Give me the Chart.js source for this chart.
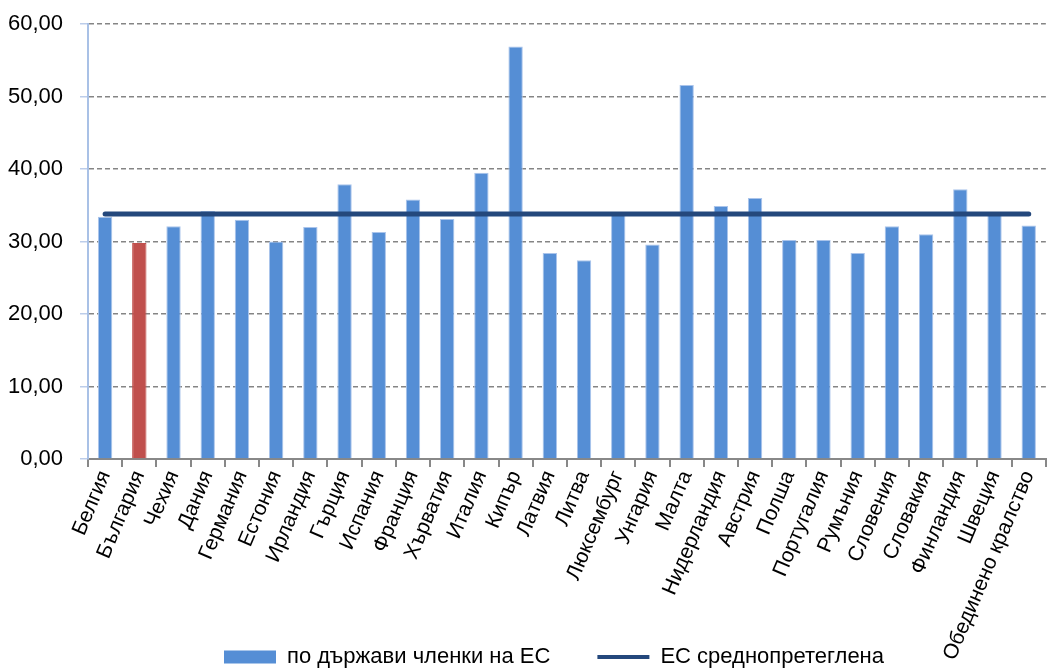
<!DOCTYPE html>
<html>
<head>
<meta charset="utf-8">
<script src="https://cdn.jsdelivr.net/npm/chart.js@4"></script>
<style>
    html, body { margin: 0; padding: 0; background: #fff; }
    #wrap { width: 1052px; height: 670px; }
</style>
</head>
<body>
<div id="wrap"><canvas id="main-barchart"></canvas></div>
<script>
const countries = ["Белгия", "България", "Чехия", "Дания", "Германия", "Естония", "Ирландия", "Гърция", "Испания", "Франция", "Хърватия", "Италия", "Кипър", "Латвия", "Литва", "Люксембург", "Унгария", "Малта", "Нидерландия", "Австрия", "Полша", "Португалия", "Румъния", "Словения", "Словакия", "Финландия", "Швеция", "Обединено кралство"];
const memberValues = [33.4, 29.8, 32.1, 34.2, 33.0, 30.0, 32.0, 37.9, 31.3, 35.8, 33.1, 39.5, 56.9, 28.4, 27.4, 33.7, 29.6, 51.6, 34.9, 36.0, 30.2, 30.2, 28.4, 32.1, 31.0, 37.2, 33.7, 32.2];
const euAverage = 33.8;
const yTicks = [0, 10, 20, 30, 40, 50, 60];

const fontFamily = "'Liberation Sans', Arial, sans-serif";
const blue = "rgb(85, 142, 213)";
const red = "rgb(192, 80, 77)";
const navy = "rgb(36, 72, 124)";

const barColors = countries.map(c => c === "България" ? red : blue);
const barBorders = countries.map(c => c === "България" ? red : "rgb(170, 196, 235)");

// x labels may run down into the legend strip, so don't clip them to the axis box;
// the legend is nudged to where it sits in the original
const layoutTweaks = {
    id: "layoutTweaks",
    afterLayout(chart) {
        chart.scales.x.bottom = chart.height;
        const lg = chart.legend;
        lg.top += 8; lg.bottom += 8;
        lg.left += 30; lg.right += 30;
    }
};

const data = {
    labels: countries,
    datasets: [
        {
            type: "line",
            label: "ЕС среднопретеглена",
            data: countries.map(() => euAverage),
            borderColor: navy,
            backgroundColor: navy,
            borderWidth: 5,
            pointRadius: 0,
            borderCapStyle: "round",
            order: 0
        },
        {
            type: "bar",
            label: "по държави членки на ЕС",
            data: memberValues,
            backgroundColor: barColors,
            borderColor: barBorders,
            borderWidth: { left: 1, right: 1, top: 1, bottom: 0 },
            barPercentage: 0.42,
            categoryPercentage: 1,
            order: 1
        }
    ]
};

new Chart(document.querySelector("#main-barchart"), {
    data: data,
    plugins: [layoutTweaks],
    options: {
        responsive: true,
        maintainAspectRatio: false,
        animation: false,
        layout: { autoPadding: false, padding: { left: 0, right: 4, top: 24, bottom: 0 } },
        scales: {
            x: {
                grid: {
                    offset: true,
                    drawOnChartArea: false,
                    color: "#888",
                    tickLength: 8,
                    lineWidth: 2
                },
                border: { color: "#888", width: 2 },
                ticks: {
                    color: "#000",
                    font: { family: fontFamily, size: 21 },
                    maxRotation: 67,
                    minRotation: 67,
                    autoSkip: false,
                    padding: 0
                },
                afterFit: scale => { scale.height = 132; scale.paddingTop = 0; }
            },
            y: {
                min: 0,
                max: 60,
                afterBuildTicks: scale => { scale.ticks = yTicks.map(v => ({ value: v })); },
                afterFit: scale => { scale.width = 88; scale.paddingTop = 0; },
                grid: {
                    color: "#858585",
                    lineWidth: 1.5,
                    tickColor: "#bccdea",
                    tickLength: 8,
                    tickBorderDash: []
                },
                border: { color: "#a9c1e6", width: 2, dash: [5, 3] },
                ticks: {
                    color: "#000",
                    font: { family: fontFamily, size: 22 },
                    padding: 17,
                    callback: v => v.toFixed(2).replace(".", ",")
                }
            }
        },
        plugins: {
            legend: {
                position: "bottom",
                reverse: true,
                labels: {
                    color: "#000",
                    font: { family: fontFamily, size: 22 },
                    usePointStyle: true,
                    pointStyleWidth: 52,
                    boxHeight: 13,
                    padding: 47,
                    generateLabels: chart => {
                        const items = Chart.defaults.plugins.legend.labels.generateLabels(chart);
                        items.forEach(i => {
                            if (i.datasetIndex === 1) {
                                i.pointStyle = "rect";
                                i.lineWidth = 0;
                                i.fillStyle = blue;
                            } else {
                                i.pointStyle = "line";
                                i.lineWidth = 4;
                            }
                        });
                        return items;
                    }
                }
            },
            tooltip: { enabled: false }
        }
    }
});
</script>
</body>
</html>
